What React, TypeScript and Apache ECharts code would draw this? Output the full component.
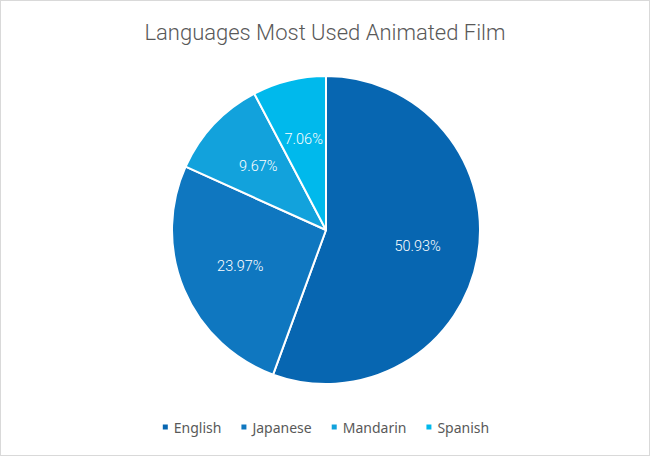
import React, { useEffect, useRef } from "react";
import * as echarts from "echarts";

const categories = ["English", "Japanese", "Mandarin", "Spanish"];
const values = [50.93, 23.97, 9.67, 7.06];
const colors = ["#0766B1", "#0F77C0", "#12A2DC", "#00B9EC"];

export default function App() {
  const ref = useRef<HTMLDivElement>(null);
  useEffect(() => {
    document.body.style.margin = "0";
    if (!ref.current) return;
    const chart = echarts.init(ref.current, null, { renderer: "svg" });
    const data = categories.map((name, i) => ({
      name,
      value: values[i],
      itemStyle: { color: colors[i] },
    }));
    chart.setOption({
      animation: false,
      backgroundColor: "#ffffff",
      title: {
        text: "Languages Most Used Animated Film",
        left: "center",
        top: 15,
        textStyle: {
          fontFamily: "Roboto",
          fontWeight: 300,
          fontSize: 22,
          color: "#595959",
        },
      },
      legend: {
        data: categories,
        bottom: 16,
        left: "center",
        icon: "rect",
        itemWidth: 7,
        itemHeight: 7,
        itemGap: 18,
        textStyle: {
          fontFamily: "Noto Sans",
          fontSize: 14,
          color: "#595959",
        },
      },
      series: [
        {
          type: "pie",
          center: [325, 229],
          radius: [0, 154],
          startAngle: 90,
          clockwise: true,
          silent: true,
          itemStyle: { borderColor: "#ffffff", borderWidth: 2 },
          label: { show: false },
          labelLine: { show: false },
          data,
        },
        {
          type: "pie",
          center: [325, 229],
          radius: [26, 154],
          startAngle: 90,
          clockwise: true,
          silent: true,
          itemStyle: { color: "rgba(0,0,0,0)", borderWidth: 0 },
          label: {
            show: true,
            position: "inside",
            formatter: (p: any) => p.value.toFixed(2) + "%",
            fontFamily: "Roboto",
            fontWeight: 300,
            fontSize: 14.5,
            color: "#ffffff",
          },
          labelLine: { show: false },
          data: categories.map((name, i) => ({ name, value: values[i] })),
        },
      ],
    });
    return () => chart.dispose();
  }, []);
  return (
    <div
      ref={ref}
      style={{
        width: 650,
        height: 456,
        border: "1px solid #d9d9d9",
        boxSizing: "border-box",
      }}
    />
  );
}
